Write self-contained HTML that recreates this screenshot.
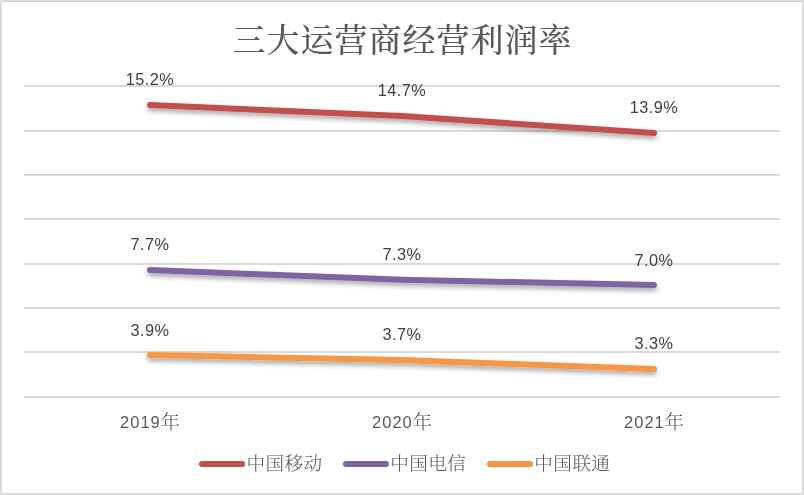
<!DOCTYPE html>
<html>
<head>
<meta charset="utf-8">
<style>
html,body{margin:0;padding:0;background:#fff;}
body{width:804px;height:495px;overflow:hidden;}
svg{display:block;}
.t{font-family:"Liberation Serif","Noto Serif CJK SC",serif;font-size:33px;fill:#595959;letter-spacing:1px;font-weight:500;}
.dl{font-family:"Liberation Sans","Noto Sans CJK SC",sans-serif;font-size:16.3px;fill:#404040;letter-spacing:0.5px;}
.ax{font-family:"Liberation Sans","Noto Serif CJK SC",serif;font-size:16.5px;fill:#595959;letter-spacing:1px;}
.cj{font-family:"Noto Serif CJK SC",serif;font-size:19.2px;font-weight:300;letter-spacing:0;}
.lg{font-family:"Liberation Serif","Noto Serif CJK SC",serif;font-size:18.67px;fill:#595959;font-weight:300;letter-spacing:0.35px;}
</style>
</head>
<body>
<svg width="804" height="495" viewBox="0 0 804 495">
<defs>
<filter id="sh" x="-10%" y="-100%" width="120%" height="400%">
<feGaussianBlur in="SourceAlpha" stdDeviation="2.5"/>
<feOffset dx="0" dy="3" result="b"/>
<feFlood flood-color="#000" flood-opacity="0.35"/>
<feComposite in2="b" operator="in"/>
<feMerge><feMergeNode/><feMergeNode in="SourceGraphic"/></feMerge>
</filter>
<filter id="gs" x="0" y="0" width="100%" height="100%"><feOffset dx="0" dy="0"/></filter>
</defs>
<rect x="1" y="1" width="802" height="493" fill="#fff" stroke="#d9d9d9" stroke-width="2"/>
<g fill="#ebebeb"><rect x="0" y="0" width="1" height="1"/><rect x="803" y="0" width="1" height="1"/><rect x="0" y="494" width="1" height="1"/><rect x="803" y="494" width="1" height="1"/></g>
<g filter="url(#gs)"><text class="t" x="402.5" y="52" text-anchor="middle">三大运营商经营利润率</text></g>
<g fill="#d9d9d9">
<rect x="24" y="85" width="756" height="2"/>
<rect x="24" y="130" width="756" height="2"/>
<rect x="24" y="174" width="756" height="2"/>
<rect x="24" y="218" width="756" height="2"/>
<rect x="24" y="263" width="756" height="2"/>
<rect x="24" y="307" width="756" height="2"/>
<rect x="24" y="351" width="756" height="2"/>
<rect x="24" y="396" width="756" height="2"/>
</g>
<g fill="none" stroke-width="6" stroke-linecap="round" stroke-linejoin="round" filter="url(#sh)">
<polyline points="150,105 402,116 654,133.1" stroke="#c0504d"/>
<polyline points="150,270 402,279.7 654,285" stroke="#8064a2"/>
<polyline points="150,355 402,360.1 654,369" stroke="#f79646"/>
</g>
<g class="dl" text-anchor="middle" filter="url(#gs)">
<text x="150" y="85">15.2%</text>
<text x="402" y="96">14.7%</text>
<text x="654" y="113">13.9%</text>
<text x="150" y="250">7.7%</text>
<text x="402" y="260">7.3%</text>
<text x="654" y="266">7.0%</text>
<text x="150" y="336">3.9%</text>
<text x="402" y="340">3.7%</text>
<text x="654" y="349">3.3%</text>
</g>
<g class="ax" text-anchor="middle" filter="url(#gs)">
<text x="150" y="428">2019<tspan class="cj" dy="1">年</tspan></text>
<text x="402" y="428">2020<tspan class="cj" dy="1">年</tspan></text>
<text x="654" y="428">2021<tspan class="cj" dy="1">年</tspan></text>
</g>
<g stroke-width="6" stroke-linecap="round">
<line x1="202" y1="464" x2="242" y2="464" stroke="#c0504d"/>
<line x1="346" y1="464" x2="386" y2="464" stroke="#8064a2"/>
<line x1="490" y1="464" x2="530" y2="464" stroke="#f79646"/>
</g>
<g class="lg" filter="url(#gs)">
<text x="246.5" y="469.8">中国移动</text>
<text x="390.3" y="469.8">中国电信</text>
<text x="534.3" y="469.8">中国联通</text>
</g>
</svg>
</body>
</html>
